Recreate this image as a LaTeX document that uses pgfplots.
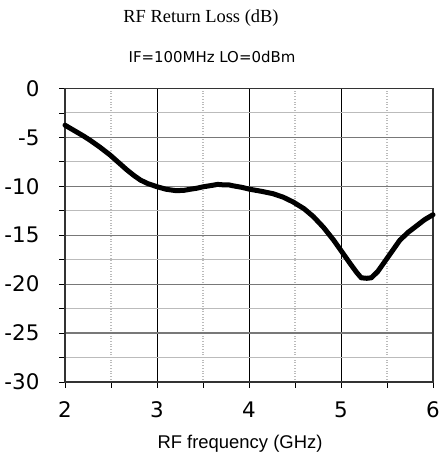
\documentclass[border=0pt]{standalone}
\usepackage{pgfplots}
\pgfplotsset{compat=1.18}
\usepackage{fontspec}
\setmainfont{Liberation Sans}
\newfontfamily\dejavu{DejaVu Sans}
\newfontfamily\tserif{Liberation Serif}
\definecolor{majgrid}{HTML}{787878}
\definecolor{mingrid}{HTML}{BBBBBB}
\definecolor{frame}{HTML}{333333}
\begin{document}
\begin{tikzpicture}[x=1bp,y=1bp]
\path[use as bounding box] (-65bp,-78bp) rectangle (378bp,382bp);
\begin{axis}[
  scale only axis,
  width=368bp, height=293.5bp,
  xmin=2, xmax=6, ymin=-30, ymax=0,
  axis line style={frame, line width=1.2pt},
  xtick={2,3,4,5,6},
  minor xtick={2.5,3.5,4.5,5.5},
  ytick={0,-5,-10,-15,-20,-25,-30},
  minor ytick={-2.5,-7.5,-12.5,-17.5,-22.5,-27.5},
  tick align=outside,
  tick pos=left,
  major tick length=6bp,
  minor tick length=6bp,
  every tick/.style={black, line width=0.8pt},
  grid=both,
  x grid style={black, line width=0.7pt},
  y grid style={majgrid, line width=1.2pt},
  minor x grid style={mingrid, dotted, line width=1.3pt},
  minor y grid style={mingrid, line width=1pt},
  ticklabel style={font=\dejavu\fontsize{21.5}{23}\selectfont},
  /pgf/number format/assume math mode=true,
  xticklabel style={yshift=-10bp},
  yticklabel style={xshift=-16bp},
  clip=false,
]
\addplot[black, line width=5bp, line join=round, line cap=round] coordinates {
(2.00,-3.75) (2.10,-4.3) (2.20,-4.85) (2.27,-5.27) (2.38,-6.0) (2.49,-6.8)
(2.58,-7.55) (2.67,-8.3) (2.75,-8.9) (2.82,-9.36) (2.90,-9.72) (3.00,-10.04)
(3.10,-10.3) (3.21,-10.45) (3.30,-10.4) (3.36,-10.3) (3.43,-10.2) (3.50,-10.05)
(3.60,-9.9) (3.66,-9.8) (3.72,-9.85) (3.78,-9.85) (3.83,-9.95) (3.92,-10.1) (4.01,-10.3) (4.13,-10.5)
(4.26,-10.75) (4.37,-11.1) (4.48,-11.6) (4.60,-12.3) (4.70,-13.1) (4.81,-14.2)
(4.92,-15.5) (5.01,-16.7) (5.10,-17.9) (5.17,-18.8) (5.22,-19.35) (5.28,-19.4)
(5.33,-19.35) (5.40,-18.7) (5.46,-17.9) (5.55,-16.7) (5.64,-15.5) (5.73,-14.7)
(5.82,-14.05) (5.91,-13.4) (6.00,-12.9)
};
\end{axis}
\node[font=\tserif\fontsize{18.5}{20}\selectfont] at (136bp,364bp) {RF Return Loss (dB)};
\node[font=\dejavu\fontsize{15}{17}\selectfont] at (147bp,325bp) {IF=100MHz LO=0dBm};
\node[font=\fontsize{18.5}{20}\selectfont] at (175bp,-62bp) {RF frequency (GHz)};
\end{tikzpicture}
\end{document}
